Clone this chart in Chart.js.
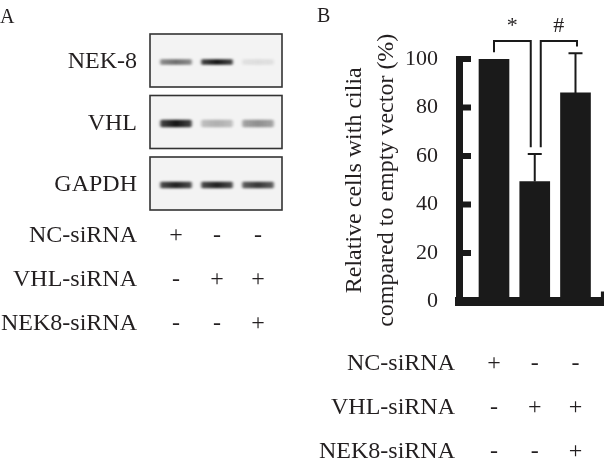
<!DOCTYPE html>
<html>
<head>
<meta charset="utf-8">
<script src="https://cdn.jsdelivr.net/npm/chart.js@4.4.1/dist/chart.umd.min.js"></script>
<style>
  html, body { margin: 0; padding: 0; background: #fff; overflow: hidden; }
  #quadro { position: relative; width: 604px; height: 465px; overflow: hidden; background: #fff; }
  #blot { position: absolute; left: 0; top: 0; }
  #barras { position: absolute; left: 300px; top: 0; }
</style>
</head>
<body>
<div id="quadro">
  <canvas id="blot" width="300" height="465"></canvas>
  <canvas id="barras" width="340" height="465"></canvas>
</div>
<script>
// painel A: western blot (intensidade relativa de cada banda, por pista)
const linhasBlot = ["NEK-8", "VHL", "GAPDH"];
const bandasNEK8 = [0.6, 1.0, 0.1];
const bandasVHL = [1.0, 0.3, 0.45];
const bandasGAPDH = [0.95, 0.95, 0.85];

// tabela de tratamentos (igual nos dois paineis)
const tratamentos = ["NC-siRNA", "VHL-siRNA", "NEK8-siRNA"];
const sinaisNC = ["+", "-", "-"];
const sinaisVHL = ["-", "+", "+"];
const sinaisNEK8 = ["-", "-", "+"];

// painel B: celulas com cilios (%)
const grupos = ["NC", "VHL", "VHL+NEK8", ""];
const ciliados = [100, 49.5, 86, 4];
const erros = [0, 11.3, 16.4, 0];
const tituloY = ["Relative cells with cilia", "compared to empty vector (%)"];

const FONTE = "'Liberation Serif', 'Times New Roman', serif";
const COR = "#231f20";
const PRETO = "#1a1a1a";

function desenharBanda(ctx, x, y, largura, altura, intensidade) {
  const grad = ctx.createLinearGradient(x - largura / 2, 0, x + largura / 2, 0);
  grad.addColorStop(0, "rgba(20,20,20,0)");
  grad.addColorStop(0.1, `rgba(20,20,20,${intensidade * 0.8})`);
  grad.addColorStop(0.5, `rgba(20,20,20,${intensidade})`);
  grad.addColorStop(0.9, `rgba(20,20,20,${intensidade * 0.8})`);
  grad.addColorStop(1, "rgba(20,20,20,0)");
  ctx.save();
  ctx.filter = "blur(1px)";
  ctx.fillStyle = grad;
  ctx.beginPath();
  ctx.roundRect(x - largura / 2, y - altura / 2, largura, altura, altura / 2);
  ctx.fill();
  ctx.restore();
}

function desenharTabela(ctx, xDireita, colunas, baseY) {
  const sinais = [sinaisNC, sinaisVHL, sinaisNEK8];
  ctx.save();
  ctx.fillStyle = COR;
  ctx.font = `24px ${FONTE}`;
  ctx.textBaseline = "alphabetic";
  tratamentos.forEach((nome, i) => {
    const y = baseY + i * 44;
    ctx.textAlign = "right";
    ctx.fillText(nome, xDireita, y);
    ctx.textAlign = "center";
    sinais[i].forEach((s, j) => ctx.fillText(s, colunas[j], y));
  });
  ctx.restore();
}

const pluginBlot = {
  id: "pluginBlot",
  afterDraw(chart) {
    const { ctx, chartArea, scales } = chart;
    const bandas = [bandasNEK8, bandasVHL, bandasGAPDH];
    const alturas = [5.5, 7.5, 6.5];
    linhasBlot.forEach((nome, i) => {
      const yc = scales.y.getPixelForValue(i);
      const largura = chartArea.right - chartArea.left;
      ctx.save();
      ctx.fillStyle = "#f3f3f3";
      ctx.fillRect(chartArea.left, yc - 28, largura, 53);
      ctx.restore();
      bandas[i].forEach((v, j) => {
        desenharBanda(ctx, scales.x.getPixelForValue(j + 1), yc, 35, alturas[i], v);
      });
      ctx.save();
      ctx.strokeStyle = "#333";
      ctx.lineWidth = 1.6;
      ctx.strokeRect(chartArea.left, yc - 28, largura, 53);
      ctx.restore();
    });

    const colunas = [1, 2, 3].map((p) => scales.x.getPixelForValue(p));
    desenharTabela(ctx, 137, colunas, 242);

    ctx.save();
    ctx.fillStyle = COR;
    ctx.font = `20px ${FONTE}`;
    ctx.textAlign = "left";
    ctx.fillText("A", 0, 23);
    ctx.restore();
  },
};

const pluginBarras = {
  id: "pluginBarras",
  afterDatasetsDraw(chart) {
    const { ctx, chartArea, scales } = chart;
    const x = scales.x;
    const y = scales.y;

    // marcas do eixo y voltadas para dentro
    ctx.save();
    ctx.fillStyle = PRETO;
    y.ticks.forEach((t) => {
      if (t.value === 0) return;
      const py = y.getPixelForValue(t.value);
      ctx.fillRect(chartArea.left - 3.5, py - 3, 15, 6);
    });
    ctx.restore();

    // barras de erro
    ctx.save();
    ctx.strokeStyle = PRETO;
    ctx.lineWidth = 2;
    ciliados.forEach((v, i) => {
      if (!erros[i]) return;
      const px = x.getPixelForValue(i + 1);
      const topo = y.getPixelForValue(v + erros[i]);
      ctx.beginPath();
      ctx.moveTo(px, y.getPixelForValue(v));
      ctx.lineTo(px, topo);
      ctx.moveTo(px - 7, topo);
      ctx.lineTo(px + 7, topo);
      ctx.stroke();
    });

    // colchetes de significancia
    const topoColchete = y.getPixelForValue(107.4);
    const colchetes = [
      { a: 1, b: 2, da: 0, db: -4, simbolo: "*" },
      { a: 2, b: 3, da: 6, db: 1.5, simbolo: "#" },
    ];
    ctx.lineWidth = 2;
    colchetes.forEach((c) => {
      const xa = x.getPixelForValue(c.a) + c.da;
      const xb = x.getPixelForValue(c.b) + c.db;
      const ya = y.getPixelForValue(ciliados[c.a - 1] + erros[c.a - 1] + 2.8);
      const yb = y.getPixelForValue(ciliados[c.b - 1] + erros[c.b - 1] + 2.8);
      ctx.beginPath();
      ctx.moveTo(xa, ya);
      ctx.lineTo(xa, topoColchete);
      ctx.lineTo(xb, topoColchete);
      ctx.lineTo(xb, yb);
      ctx.stroke();
      ctx.fillStyle = COR;
      ctx.font = `22px ${FONTE}`;
      ctx.textAlign = "center";
      ctx.textBaseline = "alphabetic";
      ctx.fillText(c.simbolo, (xa + xb) / 2, topoColchete - 9);
    });
    ctx.restore();

    const colunas = [1, 2, 3].map((p) => x.getPixelForValue(p));
    desenharTabela(ctx, 155, colunas, 370);

    ctx.save();
    ctx.fillStyle = COR;
    ctx.font = `20px ${FONTE}`;
    ctx.textAlign = "left";
    ctx.fillText("B", 17, 22);
    ctx.restore();
  },
};

new Chart(document.getElementById("blot"), {
  type: "scatter",
  data: { datasets: [] },
  options: {
    responsive: false,
    animation: false,
    layout: { padding: { left: 0, right: 18, top: 31.25, bottom: 249.25 } },
    plugins: { legend: { display: false }, tooltip: { enabled: false } },
    scales: {
      x: { type: "linear", min: 0.366, max: 3.585, display: false },
      y: {
        type: "category",
        labels: linhasBlot,
        offset: true,
        grid: { display: false, drawTicks: false },
        border: { display: false },
        ticks: { font: { family: FONTE, size: 24 }, color: COR, padding: 13 },
        afterFit(escala) {
          escala.width = 150;
        },
      },
    },
  },
  plugins: [pluginBlot],
});

new Chart(document.getElementById("barras"), {
  type: "bar",
  data: {
    datasets: [
      {
        data: grupos.map((g, i) => ({ x: i + 1, y: ciliados[i] })),
        backgroundColor: PRETO,
        barThickness: 30,
      },
    ],
  },
  options: {
    responsive: false,
    animation: false,
    layout: { padding: { left: 0, right: 0, top: 59, bottom: 163.5 } },
    plugins: { legend: { display: false }, tooltip: { enabled: false } },
    scales: {
      x: {
        type: "linear",
        offset: false,
        min: 0.1534,
        max: 4.583,
        ticks: { display: false },
        grid: { display: false, drawTicks: false, offset: false },
        border: { color: PRETO, width: 9 },
      },
      y: {
        min: 0,
        max: 100,
        ticks: { stepSize: 20, font: { family: FONTE, size: 22 }, color: COR, padding: 21.5 },
        grid: { display: false, drawTicks: false },
        border: { color: PRETO, width: 7 },
        title: {
          display: true,
          text: tituloY,
          color: COR,
          font: { family: FONTE, size: 24, lineHeight: "32px" },
          padding: { top: 39, bottom: 0 },
        },
        afterFit(escala) {
          escala.width = 159.5;
        },
      },
    },
  },
  plugins: [pluginBarras],
});
</script>
</body>
</html>
